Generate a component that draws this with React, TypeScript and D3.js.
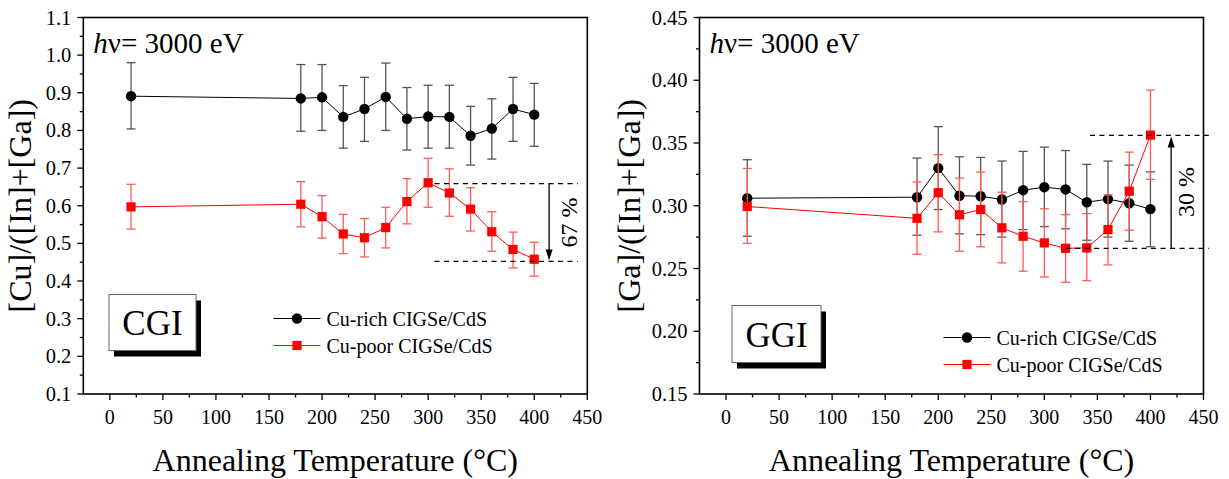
import React from "react";
import * as d3 from "d3";

const temps = [20, 180, 200, 220, 240, 260, 280, 300, 320, 340, 360, 380, 400];

const cgiRich = [0.891, 0.885, 0.888, 0.836, 0.857, 0.889, 0.831, 0.837, 0.836, 0.786, 0.805, 0.857, 0.842];
const cgiRichHi = [0.98, 0.975, 0.975, 0.919, 0.941, 0.979, 0.914, 0.92, 0.92, 0.864, 0.884, 0.941, 0.925];
const cgiRichLo = [0.804, 0.798, 0.8, 0.753, 0.771, 0.8, 0.748, 0.753, 0.753, 0.708, 0.724, 0.771, 0.758];

const cgiPoor = [0.597, 0.604, 0.571, 0.525, 0.515, 0.542, 0.611, 0.661, 0.634, 0.591, 0.531, 0.484, 0.458];
const cgiPoorHi = [0.657, 0.664, 0.627, 0.577, 0.566, 0.596, 0.672, 0.726, 0.698, 0.648, 0.584, 0.53, 0.503];
const cgiPoorLo = [0.538, 0.544, 0.514, 0.473, 0.464, 0.488, 0.552, 0.596, 0.572, 0.533, 0.479, 0.435, 0.413];

const ggiRich = [0.306, 0.3068, 0.33, 0.308, 0.3076, 0.305, 0.3124, 0.3148, 0.313, 0.3028, 0.3053, 0.302, 0.2973];
const ggiRichHi = [0.3367, 0.338, 0.363, 0.339, 0.3385, 0.3356, 0.3433, 0.3467, 0.344, 0.333, 0.3356, 0.3324, 0.327];
const ggiRichLo = [0.2757, 0.2765, 0.297, 0.2776, 0.277, 0.275, 0.281, 0.2834, 0.2816, 0.2725, 0.275, 0.2717, 0.2673];

const ggiPoor = [0.2994, 0.29, 0.3104, 0.2928, 0.297, 0.2824, 0.2757, 0.2704, 0.2661, 0.2664, 0.281, 0.3116, 0.3563];
const ggiPoorHi = [0.3297, 0.319, 0.3407, 0.322, 0.3268, 0.3108, 0.3032, 0.2976, 0.293, 0.2938, 0.3087, 0.3427, 0.3922];
const ggiPoorLo = [0.27, 0.2613, 0.2792, 0.2637, 0.2673, 0.2545, 0.2478, 0.2433, 0.239, 0.2403, 0.2529, 0.2805, 0.321];

const xTicks = [0, 50, 100, 150, 200, 250, 300, 350, 400, 450];
const cgiYTicks = [0.1, 0.2, 0.3, 0.4, 0.5, 0.6, 0.7, 0.8, 0.9, 1.0, 1.1];
const ggiYTicks = [0.15, 0.2, 0.25, 0.3, 0.35, 0.4, 0.45];

const legendLabels = ["Cu-rich CIGSe/CdS", "Cu-poor CIGSe/CdS"];

const FONT = "'Liberation Serif', 'Times New Roman', serif";

type PanelProps = {
  left: number;
  yDomain: [number, number];
  yTicks: number[];
  yMinorStep: number;
  yFmt: string;
  yTitle: string;
  titleX: number;
  rich: number[];
  richHi: number[];
  richLo: number[];
  poor: number[];
  poorHi: number[];
  poorLo: number[];
  boxLabel: string;
  box: { x0: number; y0: number; x1: number; y1: number };
  legend: { x: number; y: number };
  annot: { top: number; bot: number; topFrom: number; botFrom: number; to: number; arrowX: number; up: boolean; label: string; labelX: number };
};

function Panel(p: PanelProps) {
  const top = 17.5;
  const bottom = 394;
  const width = 504;
  const x = d3.scaleLinear().domain([-25, 450]).range([p.left, p.left + width]);
  const y = d3.scaleLinear().domain(p.yDomain).range([bottom, top]);
  const fmt = d3.format(p.yFmt);
  const xMinor = d3.range(25, 450, 50);
  const yMinor = p.yTicks.slice(0, -1).map((t) => t + p.yMinorStep);
  const line = d3
    .line<number>()
    .x((_, i) => x(temps[i]))
    .y((v) => y(v));

  const series = [
    { v: p.rich, hi: p.richHi, lo: p.richLo, color: "#000", err: "#555", marker: "circle" },
    { v: p.poor, hi: p.poorHi, lo: p.poorLo, color: "#ff0000", err: "#ff5b5b", marker: "square" },
  ];

  const marker = (m: string, cx: number, cy: number, color: string, key: string) =>
    m === "circle" ? (
      <circle key={key} cx={cx} cy={cy} r={5.2} fill={color} />
    ) : (
      <rect key={key} x={cx - 4.6} y={cy - 4.6} width={9.2} height={9.2} fill={color} />
    );

  const a = p.annot;
  const yT = y(a.top);
  const yB = y(a.bot);
  const ax = x(a.arrowX);
  const midY = (yT + yB) / 2;

  return (
    <g>
      {/* series */}
      {series.map((s, si) => (
        <g key={si}>
          {s.v.map((_, i) => {
            const cx = x(temps[i]);
            return (
              <g key={i} stroke={s.err} strokeWidth={1.3}>
                <line x1={cx} x2={cx} y1={y(s.hi[i])} y2={y(s.lo[i])} />
                <line x1={cx - 4.5} x2={cx + 4.5} y1={y(s.hi[i])} y2={y(s.hi[i])} />
                <line x1={cx - 4.5} x2={cx + 4.5} y1={y(s.lo[i])} y2={y(s.lo[i])} />
              </g>
            );
          })}
          <path d={line(s.v) || ""} fill="none" stroke={s.color} strokeWidth={1} />
          {s.v.map((v, i) => marker(s.marker, x(temps[i]), y(v), s.color, "m" + i))}
        </g>
      ))}

      {/* annotation */}
      <g stroke="#000" strokeWidth={1.2} strokeDasharray="5,4.5">
        <line x1={x(a.topFrom)} x2={x(a.to)} y1={yT} y2={yT} />
        <line x1={x(a.botFrom)} x2={x(a.to)} y1={yB} y2={yB} />
      </g>
      {a.up ? (
        <g>
          <line x1={ax} x2={ax} y1={yB} y2={yT + 9} stroke="#000" strokeWidth={1.3} />
          <path d={`M${ax},${yT + 1} L${ax - 3.5},${yT + 12} L${ax + 3.5},${yT + 12} Z`} fill="#000" />
        </g>
      ) : (
        <g>
          <line x1={ax} x2={ax} y1={yT} y2={yB - 9} stroke="#000" strokeWidth={1.3} />
          <path d={`M${ax},${yB - 1} L${ax - 3.5},${yB - 12} L${ax + 3.5},${yB - 12} Z`} fill="#000" />
        </g>
      )}
      <text
        transform={`translate(${x(a.labelX)},${midY}) rotate(-90)`}
        textAnchor="middle"
        fontSize={24}
        fontFamily={FONT}
      >
        {a.label}
      </text>

      {/* frame */}
      <rect x={p.left} y={top} width={width} height={bottom - top} fill="none" stroke="#000" strokeWidth={1.6} />

      {/* x ticks */}
      {xTicks.map((t) => (
        <g key={"xt" + t}>
          <line x1={x(t)} x2={x(t)} y1={bottom} y2={bottom + 6} stroke="#000" strokeWidth={1.3} />
          <text x={x(t)} y={424} textAnchor="middle" fontSize={20} fontFamily={FONT}>
            {t}
          </text>
        </g>
      ))}
      {xMinor.map((t) => (
        <line key={"xm" + t} x1={x(t)} x2={x(t)} y1={bottom} y2={bottom + 3.5} stroke="#000" strokeWidth={1.3} />
      ))}

      {/* y ticks */}
      {p.yTicks.map((t) => (
        <g key={"yt" + t}>
          <line x1={p.left - 6} x2={p.left} y1={y(t)} y2={y(t)} stroke="#000" strokeWidth={1.3} />
          <text x={p.left - 12} y={y(t) + 7} textAnchor="end" fontSize={20.5} fontFamily={FONT}>
            {fmt(t)}
          </text>
        </g>
      ))}
      {yMinor.map((t) => (
        <line key={"ym" + t} x1={p.left - 3.5} x2={p.left} y1={y(t)} y2={y(t)} stroke="#000" strokeWidth={1.3} />
      ))}

      {/* axis titles */}
      <text
        x={p.left + width / 2}
        y={471}
        textAnchor="middle"
        fontSize={32}
        fontFamily={FONT}
      >
        Annealing Temperature (°C)
      </text>
      <text
        transform={`translate(${p.titleX},${(top + bottom) / 2}) rotate(-90)`}
        textAnchor="middle"
        fontSize={32}
        fontFamily={FONT}
      >
        {p.yTitle}
      </text>

      {/* h nu */}
      <text x={p.left + 10} y={53} fontSize={29} fontFamily={FONT}>
        <tspan fontStyle="italic">h</tspan>
        <tspan>ν= 3000 eV</tspan>
      </text>

      {/* box label */}
      <rect x={p.box.x0 + 5} y={p.box.y0 + 6} width={p.box.x1 - p.box.x0} height={p.box.y1 - p.box.y0} fill="#000" />
      <rect
        x={p.box.x0}
        y={p.box.y0}
        width={p.box.x1 - p.box.x0}
        height={p.box.y1 - p.box.y0}
        fill="#fff"
        stroke="#666"
        strokeWidth={1}
      />
      <text
        x={(p.box.x0 + p.box.x1) / 2}
        y={p.box.y1 - 15.5}
        textAnchor="middle"
        fontSize={35}
        fontFamily={FONT}
      >
        {p.boxLabel}
      </text>

      {/* legend */}
      {series.map((s, i) => {
        const ly = p.legend.y + i * 27;
        return (
          <g key={"lg" + i}>
            <line x1={p.legend.x} x2={p.legend.x + 47} y1={ly} y2={ly} stroke={s.color} strokeWidth={1} />
            {marker(s.marker, p.legend.x + 23.5, ly, s.color, "lm" + i)}
            <text x={p.legend.x + 53} y={ly + 7} fontSize={20} fontFamily={FONT}>
              {legendLabels[i]}
            </text>
          </g>
        );
      })}
    </g>
  );
}

export default function App() {
  return (
    <svg
      width={1229}
      height={479}
      style={{ position: "absolute", left: 0, top: 0, background: "#fff" }}
    >
      <rect width={1229} height={479} fill="#fff" />
      <Panel
        left={83.3}
        yDomain={[0.1, 1.1]}
        yTicks={cgiYTicks}
        yMinorStep={0.05}
        yFmt=".1f"
        yTitle="[Cu]/([In]+[Ga])"
        titleX={31}
        rich={cgiRich}
        richHi={cgiRichHi}
        richLo={cgiRichLo}
        poor={cgiPoor}
        poorHi={cgiPoorHi}
        poorLo={cgiPoorLo}
        boxLabel="CGI"
        box={{ x0: 109, y0: 294.5, x1: 196, y1: 350.5 }}
        legend={{ x: 273.5, y: 318.5 }}
        annot={{ top: 0.659, bot: 0.452, topFrom: 306, botFrom: 306, to: 441, arrowX: 414, up: false, label: "67 %", labelX: 440 }}
      />
      <Panel
        left={699.5}
        yDomain={[0.15, 0.45]}
        yTicks={ggiYTicks}
        yMinorStep={0.025}
        yFmt=".2f"
        yTitle="[Ga]/([In]+[Ga])"
        titleX={640}
        rich={ggiRich}
        richHi={ggiRichHi}
        richLo={ggiRichLo}
        poor={ggiPoor}
        poorHi={ggiPoorHi}
        poorLo={ggiPoorLo}
        boxLabel="GGI"
        box={{ x0: 732, y0: 305.5, x1: 821, y1: 362.5 }}
        legend={{ x: 943.5, y: 337.5 }}
        annot={{ top: 0.356, bot: 0.266, topFrom: 343, botFrom: 320, to: 455, arrowX: 419.5, up: true, label: "30 %", labelX: 441 }}
      />
    </svg>
  );
}
